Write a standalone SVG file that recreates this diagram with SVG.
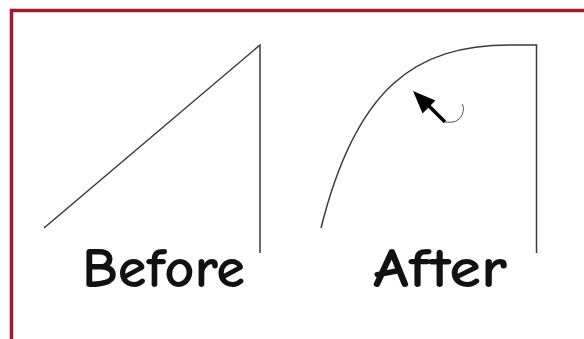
<svg xmlns="http://www.w3.org/2000/svg" width="584" height="339" viewBox="0 0 584 339">
<style>
.frame{fill:none;stroke:#9e1a2c;stroke-width:3.5}
.ln{fill:none;stroke:#3a3a3a;stroke-width:1.5}
.lbl{font-family:"Comic Sans MS","Comic Neue","DejaVu Sans",sans-serif;font-size:57px;font-weight:bold;fill:#111}
</style>
<rect width="584" height="339" fill="#fff"/>
<path class="frame" d="M11.5,345 V10.5 H600"/>
<g id="before">
<path class="ln" d="M44,228 L260,45 V253"/>
<text class="lbl" x="82" y="287" textLength="163" lengthAdjust="spacingAndGlyphs">Before</text>
</g>
<g id="after">
<path class="ln" d="M321,228 C356,88 415,45 510,45 H536.5 V253"/>
<text class="lbl" x="373" y="287" textLength="134" lengthAdjust="spacingAndGlyphs">After</text>
</g>
<g id="connectors">
<path d="M445,122 L426,103" stroke="#000" stroke-width="3.5" fill="none"/>
<path d="M413,91 L435.4,100.6 L422.6,113.4 Z" fill="#000"/>
<path d="M445,122 Q458,124 462,115 Q465,108 462,104" fill="none" stroke="#555" stroke-width="1"/>
</g>
</svg>
